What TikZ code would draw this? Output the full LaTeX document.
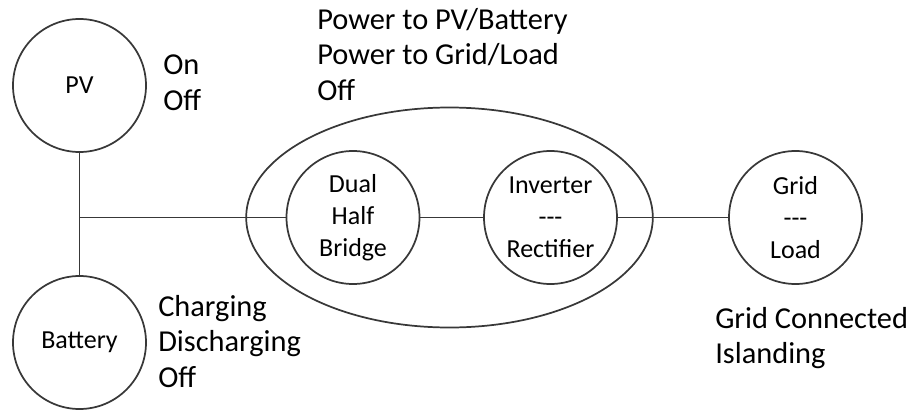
\documentclass[tikz,border=0pt]{standalone}
\usepackage{fontspec}
\setmainfont{Carlito}
\usetikzlibrary{shapes.geometric}
\definecolor{linegray}{rgb}{0.22,0.22,0.22}

\begin{document}
\begin{tikzpicture}[
  x=0.75pt, y=-0.75pt,
  every node/.style={text=black},
  unit/.style={circle, draw=linegray, line width=1.3pt, minimum size=99.75pt, inner sep=0pt, align=center, font=\fontsize{19.5}{24}\selectfont},
  stage/.style={ellipse, draw=linegray, line width=1.3pt, minimum width=305pt, minimum height=165pt, inner sep=0pt},
  state/.style={anchor=north west, inner sep=0pt, align=left, font=\fontsize{22.8}{26.5}\selectfont},
  link/.style={draw=linegray, line width=1.3pt},
]
\useasboundingbox (0,0) rectangle (909,410);

% ---- sources: PV and battery ----
\node[unit] (pv)  at (79.5, 85.5)  {PV};
\node[unit] (bat) at (79.5, 342.5) {Battery};
\coordinate (dcbus) at (79.5, 217.5);

% ---- converter stage ----
\node[stage] (conv) at (449.5, 217.5) {};
\node[unit] (dhb) at (353, 217.5)   {Dual\\Half\\Bridge};
\node[unit] (inv) at (550.5, 217.5) {Inverter\\-{}-{}-\\Rectifier};

% ---- grid side ----
\node[unit] (grid) at (795.5, 217.5) {Grid\\-{}-{}-\\Load};

% ---- connections ----
\draw[link] (pv) -- (bat);
\draw[link] (dcbus) -- (dhb);
\draw[link] (dhb) -- (inv);
\draw[link] (inv) -- (grid);

% ---- operating states ----
\node[state] (pvstate)   at (163, 55)  {On\\Off};
\node[state] (batstate)  at (158, 295) {Charging\\Discharging\\Off};
\node[state] (convstate) at (317, 8)   {Power to PV/Battery\\Power to Grid/Load\\Off};
\node[state] (gridstate) at (715, 307) {Grid Connected\\Islanding};

\end{tikzpicture}
\end{document}
